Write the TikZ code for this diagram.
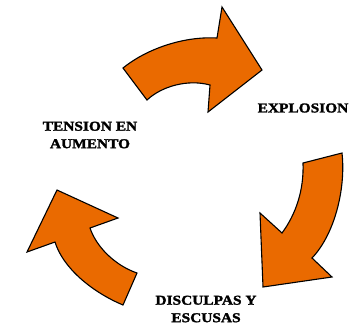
\documentclass[tikz,border=0pt]{standalone}
\usepackage{fontspec}
\newfontfamily\lblfont[FakeStretch=1.14,FakeBold=2]{Liberation Serif Bold}
\definecolor{arroworange}{RGB}{234,106,0}
\tikzset{
  cyclearrow/.style={draw=black, line width=1.1pt, fill=arroworange, line join=miter},
  lbl/.style={font=\lblfont\fontsize{13.5}{17.5}\selectfont, align=center, inner sep=0pt}
}
\begin{document}
\begin{tikzpicture}[x=1pt,y=-1pt]
\useasboundingbox (0,0) rectangle (363,325);
% top arrow
\draw[cyclearrow] (123,68) .. controls (145,50) and (182,36) .. (217,38)
  -- (222,7) -- (262,70) -- (208,112) -- (210,85)
  .. controls (188,79) and (162,86) .. (147,100) -- cycle;
% right arrow
\draw[cyclearrow] (303,163) -- (342,153)
  .. controls (346,190) and (334,235) .. (312,258)
  -- (332,277) -- (263,287) -- (260,213) -- (282,233)
  .. controls (296,214) and (304,190) .. (303,163) -- cycle;
% left arrow
\draw[cyclearrow] (137,273) -- (123,305)
  .. controls (92,292) and (63,268) .. (55,242)
  -- (27,252) -- (57,190) -- (118,218) -- (90,228)
  .. controls (96,246) and (114,265) .. (137,273) -- cycle;
\node[lbl] (explosion) at (303,108) {EXPLOSION};
\node[lbl] (tension) at (90,135) {TENSION EN\\AUMENTO};
\node[lbl] (disculpas) at (206,309) {DISCULPAS Y\\ESCUSAS};
\end{tikzpicture}
\end{document}
